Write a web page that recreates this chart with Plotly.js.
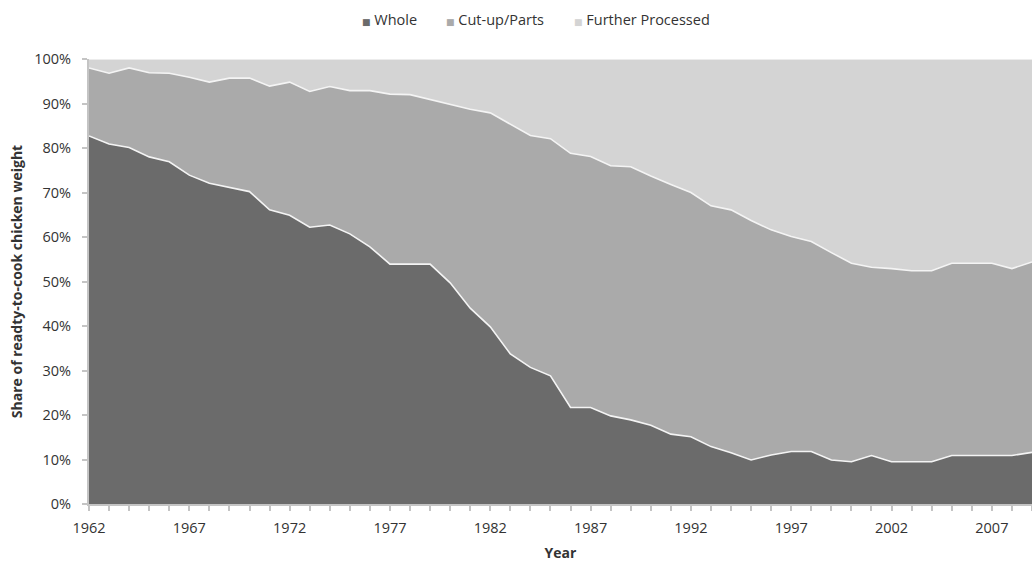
<!DOCTYPE html>
<html>
<head>
<meta charset="utf-8">
<script src="https://cdn.plot.ly/plotly-3.0.1.min.js"></script>
<style>
  html, body { margin: 0; padding: 0; background: #ffffff; }
  #chart { width: 1032px; height: 564px; }
</style>
</head>
<body>
<div id="chart"></div>
<script>
// Share of ready-to-cook chicken weight by product form, 1962-2009 (percent)
const years = [
  1962, 1963, 1964, 1965, 1966, 1967, 1968, 1969, 1970, 1971,
  1972, 1973, 1974, 1975, 1976, 1977, 1978, 1979, 1980, 1981,
  1982, 1983, 1984, 1985, 1986, 1987, 1988, 1989, 1990, 1991,
  1992, 1993, 1994, 1995, 1996, 1997, 1998, 1999, 2000, 2001,
  2002, 2003, 2004, 2005, 2006, 2007, 2008, 2009
];

const whole = [
  82.7, 80.9, 80.1, 78.0, 76.9, 73.9, 72.1, 71.1, 70.2, 66.1,
  64.9, 62.2, 62.7, 60.7, 57.8, 53.9, 53.9, 53.9, 49.7, 44.0,
  39.8, 33.7, 30.7, 28.8, 21.7, 21.7, 19.8, 18.9, 17.7, 15.7,
  15.1, 12.9, 11.5, 9.9, 11.0, 11.8, 11.8, 9.9, 9.5, 10.9,
  9.5, 9.5, 9.5, 10.9, 10.9, 10.9, 10.9, 11.6
];

const cutUpParts = [
  15.3, 15.9, 17.9, 18.9, 19.9, 22.0, 22.7, 24.6, 25.5, 27.8,
  29.9, 30.5, 31.1, 32.2, 35.1, 38.2, 38.1, 37.0, 40.0, 44.7,
  48.1, 51.7, 52.1, 53.3, 57.1, 56.4, 56.2, 56.9, 56.0, 56.1,
  54.9, 54.1, 54.6, 53.8, 50.6, 48.3, 47.2, 46.6, 44.6, 42.3,
  43.4, 42.9, 42.9, 43.2, 43.2, 43.2, 42.0, 42.8
];

const furtherProcessed = [
  2.0, 3.2, 2.0, 3.1, 3.2, 4.1, 5.2, 4.3, 4.3, 6.1,
  5.2, 7.3, 6.2, 7.1, 7.1, 7.9, 8.0, 9.1, 10.3, 11.3,
  12.1, 14.6, 17.2, 17.9, 21.2, 21.9, 24.0, 24.2, 26.3, 28.2,
  30.0, 33.0, 33.9, 36.3, 38.4, 39.9, 41.0, 43.5, 45.9, 46.8,
  47.1, 47.6, 47.6, 45.9, 45.9, 45.9, 47.1, 45.6
];

const seriesNames = ['Whole', 'Cut-up/Parts', 'Further Processed'];
const seriesColors = ['#6b6b6b', '#aaaaaa', '#d4d4d4'];
const seriesValues = [whole, cutUpParts, furtherProcessed];

const FONT = '"Open Sans", "Noto Sans", sans-serif';
const TEXT = '#333333';
const AXIS = '#c4c4c4';
const SIZE = 14.5;

const traces = seriesNames.map((name, i) => ({
  type: 'scatter',
  mode: 'lines',
  name: name,
  x: years,
  y: seriesValues[i],
  stackgroup: 'share',
  fill: 'tonexty',
  fillcolor: seriesColors[i],
  line: { color: '#f4f4f4', width: 1.6, shape: 'linear' },
  showlegend: false,
  hoverinfo: 'x+y+name'
}));

// Legend row: small coloured square followed by the series name
const legendX = [360, 444, 572];
const plotLeft = 89, plotWidth = 943, plotTop = 59, plotHeight = 445;
const legendAnnotations = seriesNames.map((name, i) => ({
  xref: 'paper', yref: 'paper',
  x: (legendX[i] - plotLeft) / plotWidth,
  y: (plotTop + plotHeight - 19) / plotHeight,
  xanchor: 'left', yanchor: 'middle',
  showarrow: false,
  text: '<span style="font-family:DejaVu Sans;font-size:9px;color:' + seriesColors[i] + '">■</span> ' + name,
  font: { family: FONT, size: SIZE, color: TEXT }
}));

const layout = {
  width: 1032,
  height: 564,
  margin: { l: plotLeft, r: 0, t: plotTop, b: 564 - plotTop - plotHeight, pad: 0 },
  paper_bgcolor: '#ffffff',
  plot_bgcolor: '#ffffff',
  font: { family: FONT, size: SIZE, color: TEXT },
  showlegend: false,
  xaxis: {
    range: [1962, 2009],
    tick0: 1962,
    dtick: 5,
    tickformat: 'd',
    ticks: 'outside',
    ticklen: 5,
    tickwidth: 2,
    tickcolor: AXIS,
    ticklabelstandoff: 5,
    minor: { tick0: 1962, dtick: 1, ticks: 'outside', ticklen: 5, tickwidth: 2, tickcolor: AXIS, showgrid: false },
    showgrid: false,
    zeroline: false,
    showline: true,
    linecolor: AXIS,
    linewidth: 2,
    tickfont: { family: FONT, size: SIZE, color: TEXT },
    title: { text: '<b>Year</b>', font: { family: FONT, size: 14, color: TEXT }, standoff: 12 },
    automargin: false,
    fixedrange: true
  },
  yaxis: {
    range: [0, 100],
    tick0: 0,
    dtick: 10,
    ticksuffix: '%',
    ticks: 'outside',
    ticklen: 5,
    tickwidth: 2,
    tickcolor: AXIS,
    ticklabelstandoff: 8,
    showgrid: false,
    zeroline: false,
    showline: true,
    linecolor: AXIS,
    linewidth: 2,
    tickfont: { family: FONT, size: SIZE, color: TEXT },
    title: { text: '<b>Share of readty-to-cook chicken weight</b>', font: { family: FONT, size: 14, color: TEXT }, standoff: 8 },
    automargin: false,
    fixedrange: true
  },
  annotations: legendAnnotations
};

Plotly.newPlot('chart', traces, layout, { displayModeBar: false, staticPlot: true });
</script>
</body>
</html>
